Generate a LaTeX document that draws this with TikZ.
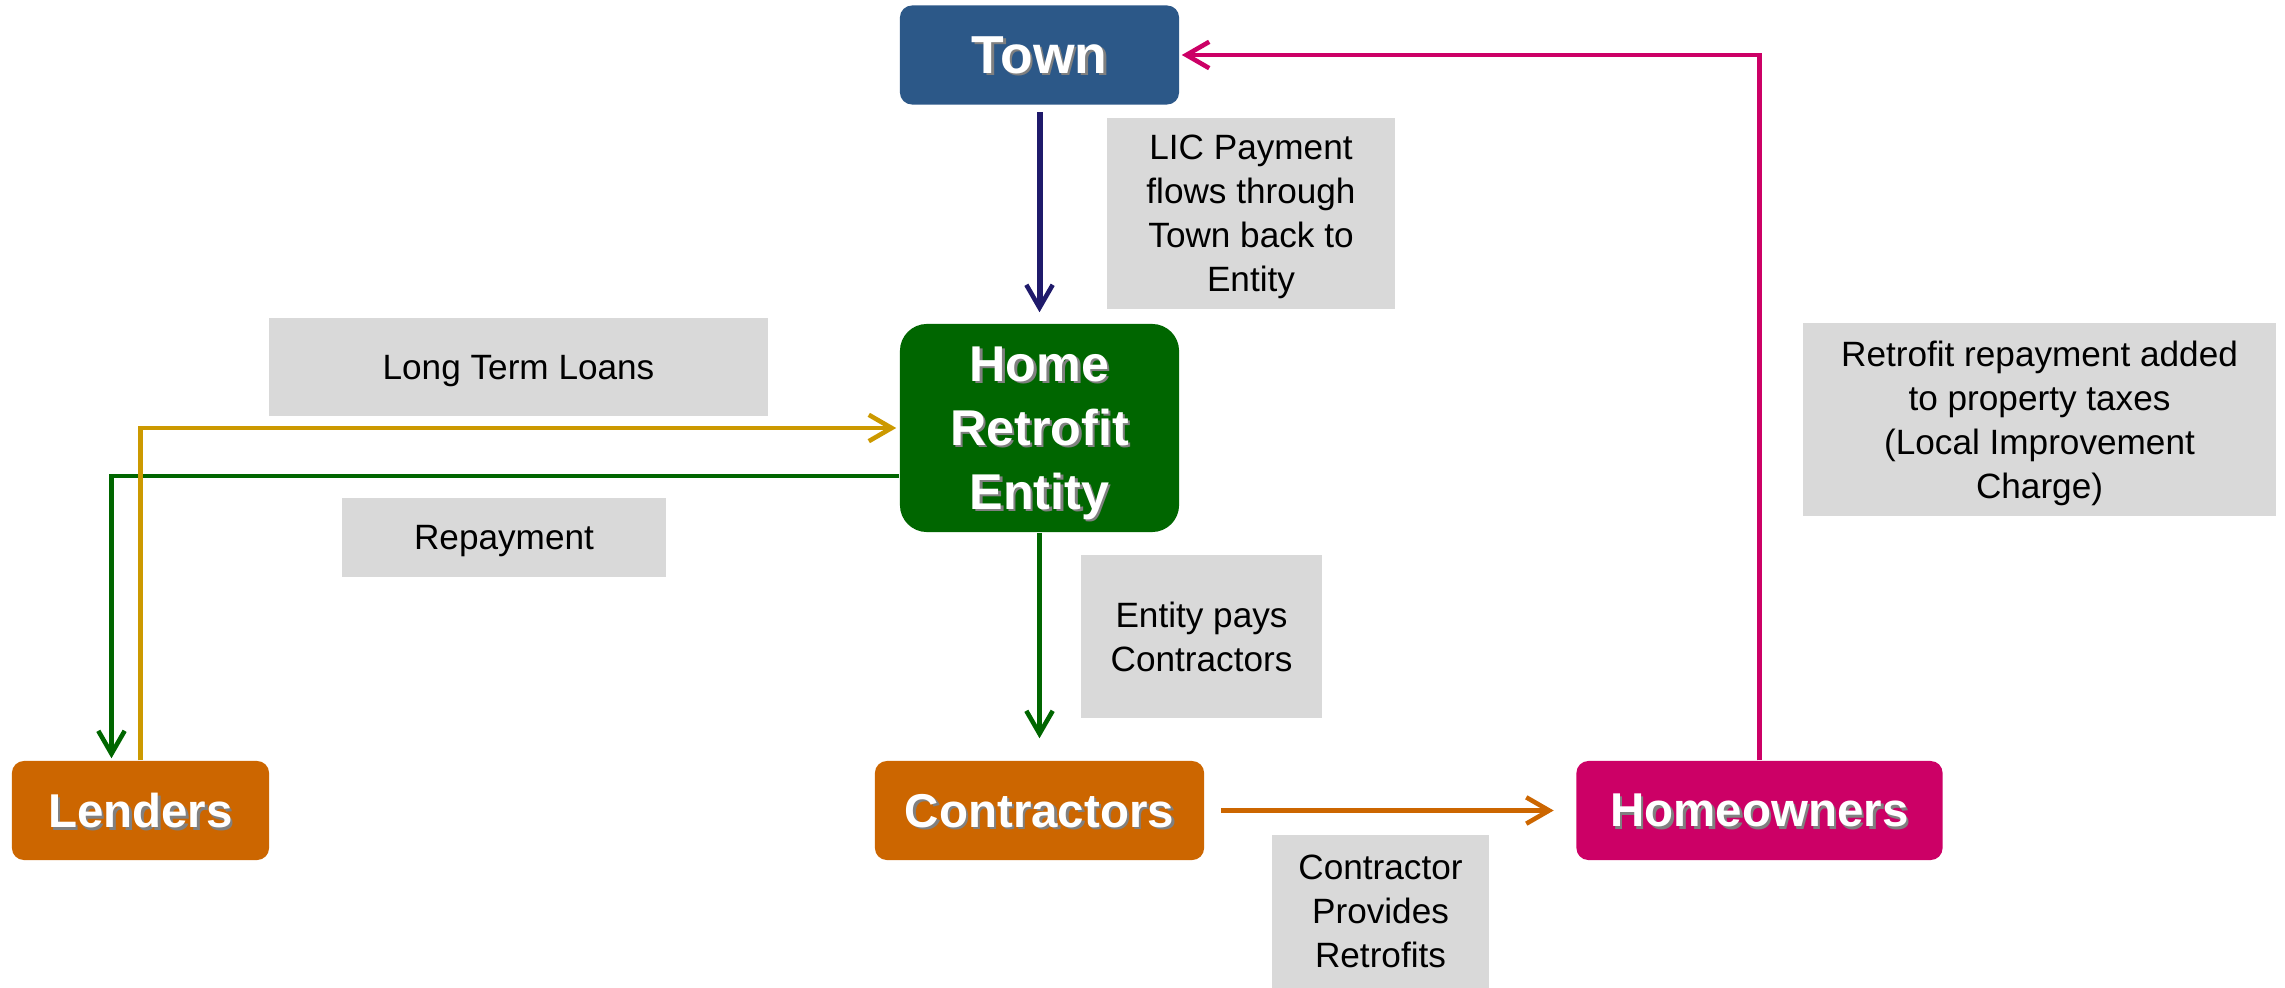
\documentclass[tikz,border=0pt]{standalone}
\usepackage{fontspec}
\setmainfont{Liberation Sans}
\usetikzlibrary{arrows.meta}
\definecolor{townblue}{HTML}{2C5888}
\definecolor{entitygreen}{HTML}{006600}
\definecolor{partyorange}{HTML}{CC6600}
\definecolor{ownerpink}{HTML}{CC0066}
\definecolor{loangold}{HTML}{CC9900}
\definecolor{lienavy}{HTML}{1F1A6B}
\definecolor{notegray}{HTML}{D9D9D9}
\newcommand{\dropshade}[1]{\leavevmode\rlap{\kern0.7pt\raisebox{-0.7pt}{\textcolor{black!50}{#1}}}#1}

\begin{document}
\begin{tikzpicture}
  [x=0.01cm, y=-0.01cm,
   party/.style={rounded corners=0.12cm, text=white, inner sep=0pt, minimum height=0.99cm, text depth=0pt,
                 font=\fontsize{13.5}{16}\selectfont\bfseries},
   note/.style={fill=notegray, inner sep=0pt, align=center, text depth=0pt, font=\fontsize{10}{12.5}\selectfont},
   flow/.style={line width=1.3pt, -{Straight Barb[length=6.5pt,width=7.5pt,line width=1.3pt]}}]
  \useasboundingbox (0,0) rectangle (2285,988);
  \node[party, fill=townblue, minimum width=2.79cm, font=\fontsize{15.2}{18}\selectfont\bfseries] (town) at (1039.5,55) {\dropshade{Town}};
  \node[party, fill=entitygreen, rounded corners=0.27cm, minimum width=2.79cm, minimum height=2.08cm,
        align=center, font=\fontsize{14.3}{18.2}\selectfont\bfseries] (entity) at (1039.5,428)
        {\dropshade{Home}\\\dropshade{Retrofit}\\\dropshade{Entity}};
  \node[party, fill=partyorange, minimum width=2.57cm] (lenders) at (140.5,810.5) {\dropshade{Lenders}};
  \node[party, fill=partyorange, minimum width=3.29cm] (contractors) at (1039.5,810.5) {\dropshade{Contractors}};
  \node[party, fill=ownerpink, minimum width=3.66cm] (homeowners) at (1759.5,810.5) {\dropshade{Homeowners}};

  \node[note, minimum width=2.88cm, minimum height=1.91cm] (lic) at (1251,213.5)
    {LIC Payment\\flows through\\Town back to\\Entity};
  \node[note, minimum width=4.99cm, minimum height=0.98cm] (loans) at (518.5,367) {Long Term Loans};
  \node[note, minimum width=3.24cm, minimum height=0.79cm] (repay) at (504,537.5) {Repayment};
  \node[note, minimum width=2.41cm, minimum height=1.63cm] (pays) at (1201.5,636.5) {Entity pays\\Contractors};
  \node[note, minimum width=2.17cm, minimum height=1.53cm] (provides) at (1380.5,911.5)
    {Contractor\\Provides\\Retrofits};
  \node[note, minimum width=4.73cm, minimum height=1.93cm] (taxes) at (2039.5,419.5)
    {Retrofit repayment added\\to property taxes\\(Local Improvement\\Charge)};

  \draw[flow, lienavy, line width=1.7pt, shorten <=0.07cm, shorten >=0.11cm] (town) -- (entity);
  \draw[flow, entitygreen, shorten >=0.02cm] ([yshift=-0.48cm]entity.west) -| ([xshift=-0.29cm]lenders.north);
  \draw[flow, loangold, shorten >=0.03cm] (lenders.north) |- (entity.west);
  \draw[flow, entitygreen, shorten >=0.22cm] (entity) -- (contractors);
  \draw[flow, partyorange, shorten <=0.16cm, shorten >=0.22cm] (contractors) -- (homeowners);
  \draw[flow, ownerpink, shorten >=0.02cm] (homeowners.north) |- (town.east);
\end{tikzpicture}
\end{document}
